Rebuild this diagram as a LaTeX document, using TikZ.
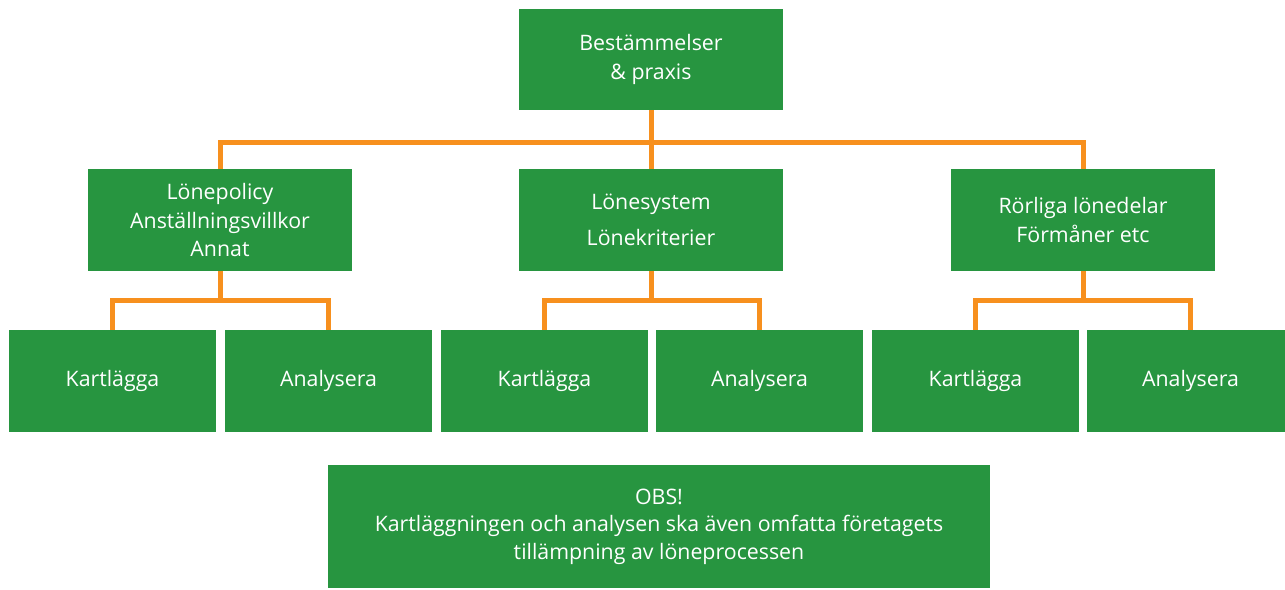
\documentclass[tikz,border=0pt]{standalone}
\usepackage{fontspec}
\setmainfont{Open Sans}
\definecolor{boxgreen}{RGB}{39,149,64}
\definecolor{lineorange}{RGB}{247,144,30}

\begin{document}
\begin{tikzpicture}[x=0.75pt,y=-0.75pt,
    box/.style={fill=boxgreen, text=white, align=center, inner sep=0pt,
        minimum width=198pt, minimum height=76pt, font=\fontsize{16}{21.5}\selectfont},
    leaf/.style={box, minimum width=155.25pt},
    note/.style={box, minimum width=496.5pt, minimum height=92.25pt, font=\fontsize{16}{20.5}\selectfont},
    link/.style={draw=lineorange, line width=3.75pt}]
    \useasboundingbox (0,0) rectangle (1285,589);

    % top level
    \node[box] (rules) at (651,59.5) {Bestämmelser\\\& praxis};

    % second level
    \node[box] (policy) at (220,220) {Lönepolicy\\Anställningsvillkor\\Annat};
    \node[box] (system) at (651,220) {Lönesystem\\[5pt]Lönekriterier};
    \node[box] (perks) at (1083,220) {Rörliga lönedelar\\Förmåner etc};

    % third level
    \node[leaf] (map-1) at (112.5,381) {Kartlägga};
    \node[leaf] (ana-1) at (328.5,381) {Analysera};
    \node[leaf] (map-2) at (544.5,381) {Kartlägga};
    \node[leaf] (ana-2) at (759.5,381) {Analysera};
    \node[leaf] (map-3) at (975.5,381) {Kartlägga};
    \node[leaf] (ana-3) at (1190.5,381) {Analysera};

    \node[note] (obs) at (659,526.5) {OBS!\\Kartläggningen och analysen ska även omfatta företagets\\tillämpning av löneprocessen};

    \draw[link] (rules.south) -- ++(0,32) -| (policy.north);
    \draw[link] (rules.south) -- (system.north);
    \draw[link] (rules.south) -- ++(0,32) -| (perks.north);

    \draw[link] (policy.south) -- ++(0,30) -| (map-1.north);
    \draw[link] (policy.south) -- ++(0,30) -| (ana-1.north);
    \draw[link] (system.south) -- ++(0,30) -| (map-2.north);
    \draw[link] (system.south) -- ++(0,30) -| (ana-2.north);
    \draw[link] (perks.south) -- ++(0,30) -| (map-3.north);
    \draw[link] (perks.south) -- ++(0,30) -| (ana-3.north);

\end{tikzpicture}
\end{document}
